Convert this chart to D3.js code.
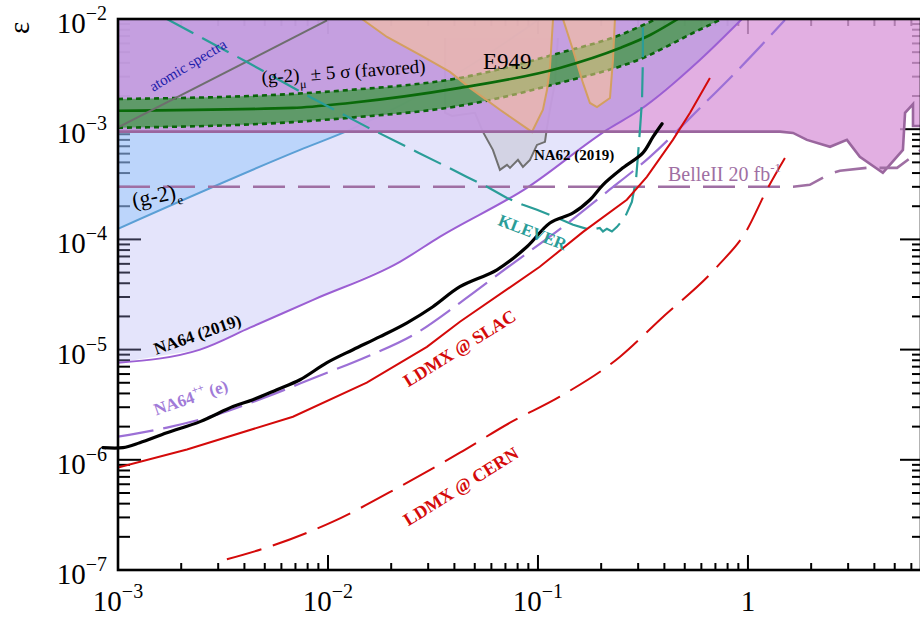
<!DOCTYPE html>
<html>
<head>
<meta charset="utf-8">
<script src="https://cdn.jsdelivr.net/npm/d3@7"></script>
<style>
  html, body { margin: 0; padding: 0; background: #fff; }
  svg { display: block; font-family: 'Liberation Serif', 'Times New Roman', serif; }
</style>
</head>
<body>
<div id="chart"></div>
<script>
// ---- data (mass in GeV, epsilon) ----
const xDomain = [1e-3, 6.67]
const yDomain = [1e-7, 1e-2]
const xMajor = [1e-3, 1e-2, 1e-1, 1]
const xMajorLabels = [['10', '−3'], ['10', '−2'], ['10', '−1'], ['1', '']]
const yMajor = [1e-7, 1e-6, 1e-5, 1e-4, 1e-3, 1e-2]
const yMajorLabels = [['10', '−7'], ['10', '−6'], ['10', '−5'], ['10', '−4'], ['10', '−3'], ['10', '−2']]

const na64_2019 = [[1.0e-3, 7.6e-6], [2.46e-3, 1.0e-5], [4.25e-3, 1.58e-5], [8.5e-3, 2.83e-5], [0.022, 6.26e-5],
  [0.0342, 1.06e-4], [0.0886, 2.94e-4], [0.213, 9.86e-4], [0.306, 1.5e-3], [0.59, 4.25e-3], [0.936, 1.0e-2]]

const g2eLine = [[1e-3, 1.25e-4], [7.36e-3, 6.49e-4], [0.0127, 9.86e-4], [0.0425, 3.31e-3], [0.102, 1.0e-2]]

const atomicSpectra = [[1e-3, 1.04e-3], [0.0099, 9.7e-3]]

const babarEdge = [[1e-3, 9.5e-4], [1.42, 9.5e-4], [1.64, 9.25e-4], [1.91, 8.0e-4], [2.46, 6.92e-4], [2.96, 8.0e-4],
  [3.41, 5.61e-4], [4.39, 4.02e-4], [5.47, 6.49e-4], [5.6, 1.41e-3], [6.11, 1.69e-3], [6.11, 1.07e-3], [6.67, 1.07e-3]]

const bandCenter = [[1e-3, 1.47e-3], [6.8e-3, 1.56e-3], [0.0127, 1.73e-3], [0.0425, 2.37e-3], [0.127, 3.6e-3],
  [0.246, 5.46e-3], [0.342, 7.16e-3], [0.464, 1.0e-2]]
const bandUpper = [[1e-3, 1.88e-3], [6.8e-3, 2.09e-3], [0.0127, 2.27e-3], [0.0425, 2.92e-3], [0.127, 4.92e-3],
  [0.246, 7.16e-3], [0.365, 1.0e-2]]
const bandLower = [[1e-3, 1.03e-3], [6.8e-3, 1.16e-3], [0.0127, 1.27e-3], [0.0425, 1.63e-3], [0.127, 2.63e-3],
  [0.316, 4.43e-3], [0.547, 7.46e-3], [0.75, 1.0e-2]]

const e949a = [[0.0145, 1e-2], [0.0191, 6.87e-3], [0.0274, 4.72e-3], [0.0381, 3.31e-3], [0.0474, 2.37e-3],
  [0.0659, 1.5e-3], [0.0936, 9.45e-4], [0.1056, 1.5e-3], [0.1104, 2.27e-3], [0.1141, 3.67e-3], [0.118, 1e-2]]
const e949b = [[0.1315, 1e-2], [0.1468, 5.23e-3], [0.1638, 2.63e-3], [0.1768, 1.73e-3], [0.191, 1.59e-3],
  [0.2203, 1.92e-3], [0.2276, 4.25e-3], [0.2326, 1e-2]]

const na62 = [[0.0361, 6.73e-3], [0.0361, 1.41e-3], [0.039, 1.32e-3], [0.0501, 1.41e-3], [0.0547, 9.45e-4],
  [0.061, 6.49e-4], [0.0659, 4.28e-4], [0.0712, 4.75e-4], [0.0736, 4.46e-4], [0.0803, 5.27e-4], [0.0848, 4.55e-4],
  [0.0916, 5.27e-4], [0.0989, 7.2e-4], [0.108, 7.67e-4], [0.110, 9.86e-4], [0.114, 1.5e-3], [0.1205, 2.63e-3],
  [0.1245, 6.73e-3]]

const klever = [[1.71e-3, 1e-2], [4.11e-3, 4.07e-3], [8.21e-3, 1.96e-3], [0.0153, 1.05e-3], [0.0265, 6.22e-4],
  [0.0369, 4.55e-4], [0.0459, 3.69e-4], [0.0572, 3.0e-4], [0.0712, 2.38e-4], [0.0848, 2.06e-4], [0.0989, 1.86e-4],
  [0.123, 1.57e-4], [0.147, 1.36e-4], [0.177, 1.22e-4], [0.197, 1.27e-4], [0.204, 1.18e-4], [0.213, 1.25e-4],
  [0.225, 1.18e-4], [0.238, 1.3e-4], [0.26, 1.6e-4], [0.28, 2.19e-4], [0.293, 3.47e-4], [0.299, 5.61e-4],
  [0.306, 9.86e-4], [0.313, 1.84e-3], [0.316, 4.25e-3], [0.316, 1e-2]]

const belle2 = [[1e-3, 3.0e-4], [1.64, 3.0e-4], [1.97, 3.13e-4], [2.46, 3.94e-4], [2.74, 4.19e-4], [3.69, 4.46e-4],
  [5.13, 4.46e-4], [6.04, 5.61e-4], [6.67, 6.49e-4]]

const na64pp = [[1e-3, 1.62e-6], [1.71e-3, 1.96e-6], [2.96e-3, 2.57e-6], [5.12e-3, 3.74e-6], [8.86e-3, 5.68e-6],
  [0.0153, 8.62e-6], [0.0265, 1.42e-5], [0.0425, 2.66e-5], [0.0712, 5.53e-5], [0.1315, 1.3e-4], [0.213, 2.7e-4],
  [0.3415, 5.61e-4], [0.591, 1.56e-3], [0.916, 3.6e-3], [1.5, 9.79e-3]]

const na64proj = [[8.48e-4, 1.29e-6], [1.056e-3, 1.29e-6], [1.27e-3, 1.43e-6], [1.71e-3, 1.76e-6], [2.46e-3, 2.22e-6],
  [3.53e-3, 3.04e-6], [4.39e-3, 3.51e-6], [5.71e-3, 4.33e-6], [7.36e-3, 5.33e-6], [9.89e-3, 7.61e-6],
  [0.01315, 9.98e-6], [0.0177, 1.31e-5], [0.0238, 1.75e-5], [0.0316, 2.45e-5], [0.0425, 3.72e-5],
  [0.0638, 5.3e-5], [0.0886, 8.57e-5], [0.114, 1.41e-4], [0.147, 1.74e-4], [0.177, 2.29e-4], [0.204, 3.13e-4],
  [0.254, 4.46e-4], [0.316, 6.1e-4], [0.353, 8.51e-4], [0.39, 1.12e-3]]

const ldmxSlac = [[1e-3, 8.5e-7], [2.13e-3, 1.24e-6], [6.81e-3, 2.46e-6], [0.0153, 5.01e-6], [0.0296, 1.06e-5],
  [0.0425, 1.79e-5], [0.102, 5.64e-5], [0.164, 1.17e-4], [0.265, 2.29e-4], [0.33, 3.69e-4], [0.439, 8.0e-4],
  [0.53, 1.41e-3], [0.659, 2.92e-3]]

const ldmxCern = [[3.3e-3, 1.25e-7], [5.12e-3, 1.6e-7], [0.01056, 2.75e-7], [0.022, 5.71e-7], [0.0425, 1.16e-6],
  [0.0736, 2.17e-6], [0.127, 3.74e-6], [0.246, 8.62e-6], [0.381, 1.87e-5], [0.712, 5.64e-5], [0.989, 1.22e-4],
  [1.23, 2.82e-4], [1.5, 5.49e-4]]

// ---- layout ----
const W = 920, H = 618
const x = d3.scaleLog().domain(xDomain).range([118, 921])
const y = d3.scaleLog().domain(yDomain).range([570, 19])
const [x0, x1] = x.range()
const [y0, y1] = y.range()

const svg = d3.select('#chart').append('svg')
  .attr('width', W).attr('height', H)

const line = d3.line().x(d => x(d[0])).y(d => y(d[1]))
const smooth = d3.line().x(d => x(d[0])).y(d => y(d[1])).curve(d3.curveMonotoneX)
const rounded = d3.line().x(d => x(d[0])).y(d => y(d[1])).curve(d3.curveCatmullRom.alpha(0.5))
const poly = pts => line(pts) + 'Z'

const defs = svg.append('defs')
defs.append('clipPath').attr('id', 'plotClip')
  .append('rect').attr('x', x0).attr('y', y1).attr('width', x1 - x0).attr('height', y0 - y1)
defs.append('clipPath').attr('id', 'na64Clip')
  .append('path').attr('d', poly([[1e-3, 1e-2], ...na64_2019]))
defs.append('clipPath').attr('id', 'belowBabar')
  .append('rect').attr('x', x0).attr('y', y(9.5e-4)).attr('width', x1 - x0).attr('height', y0 - y(9.5e-4))

// ---- ticks (drawn first, the shaded regions sit over them) ----
const tickG = svg.append('g').attr('stroke', '#000').attr('stroke-width', 2)
const isMajor = v => Math.abs(Math.log10(v) - Math.round(Math.log10(v))) < 1e-6

x.ticks().forEach(v => {
  const len = isMajor(v) ? 15 : 7
  tickG.append('line').attr('x1', x(v)).attr('x2', x(v)).attr('y1', y0).attr('y2', y0 - len)
  tickG.append('line').attr('x1', x(v)).attr('x2', x(v)).attr('y1', y1).attr('y2', y1 + len)
})
y.ticks().forEach(v => {
  const major = isMajor(v)
  tickG.append('line').attr('y1', y(v)).attr('y2', y(v)).attr('x1', x0).attr('x2', x0 + (major ? 23 : 12))
  tickG.append('line').attr('y1', y(v)).attr('y2', y(v)).attr('x1', x1).attr('x2', x1 - (major ? 21 : 9))
})

const plot = svg.append('g').attr('clip-path', 'url(#plotClip)')

// NA64 (2019) excluded region
plot.append('path').attr('d', poly([[1e-3, 1e-2], ...na64_2019]))
  .attr('fill', 'rgb(165,165,241)').attr('fill-opacity', 0.3)

// (g-2)_e region + line
plot.append('g').attr('clip-path', 'url(#belowBabar)')
  .append('path').attr('d', poly([[1e-3, 1e-2], ...g2eLine]))
  .attr('fill', 'rgb(140,195,250)').attr('fill-opacity', 0.45)
plot.append('path').attr('d', smooth(g2eLine))
  .attr('fill', 'none').attr('stroke', '#5b9fd5').attr('stroke-width', 2)

// NA62 (2019)
plot.append('path').attr('d', poly(na62))
  .attr('fill', '#a0a0a0').attr('fill-opacity', 0.25)
plot.append('path').attr('d', line(na62))
  .attr('fill', 'none').attr('stroke', '#707070').attr('stroke-width', 2)

// BaBar region (pink, purple where it overlaps NA64)
const babarPoly = poly([[1e-3, 1e-2], [xDomain[1], 1e-2], ...babarEdge.slice().reverse()])
plot.append('path').attr('d', babarPoly)
  .attr('fill', 'rgb(219,155,219)').attr('fill-opacity', 0.8)
plot.append('g').attr('clip-path', 'url(#na64Clip)')
  .append('path').attr('d', babarPoly)
  .attr('fill', 'rgb(191,156,224)').attr('fill-opacity', 0.8)

// (g-2)_mu band
plot.append('path').attr('d', smooth(bandUpper) + 'L' + smooth(bandLower.slice().reverse()).slice(1) + 'Z')
  .attr('fill', 'rgb(27,152,25)').attr('fill-opacity', 0.6)
;[bandUpper, bandLower].forEach(b => {
  plot.append('path').attr('d', smooth(b))
    .attr('fill', 'none').attr('stroke', '#0a640a').attr('stroke-width', 2.6)
    .attr('stroke-dasharray', '5,4')
})

// E949
;[e949a, e949b].forEach(r => {
  plot.append('path').attr('d', poly(r))
    .attr('fill', 'rgb(255,199,145)').attr('fill-opacity', 0.53)
    .attr('stroke', '#d49f60').attr('stroke-width', 2)
})

plot.append('path').attr('d', smooth(bandCenter))
  .attr('fill', 'none').attr('stroke', '#0a6a0a').attr('stroke-width', 2.6)

// atomic spectra
plot.append('path').attr('d', line(atomicSpectra))
  .attr('fill', 'none').attr('stroke', '#6e6e6e').attr('stroke-width', 2)

// NA64 (2019) boundary
plot.append('path').attr('d', smooth(na64_2019))
  .attr('fill', 'none').attr('stroke', '#9b5fd3').attr('stroke-width', 2)

// BaBar boundary
plot.append('path').attr('d', line(babarEdge))
  .attr('fill', 'none').attr('stroke', '#9a669e').attr('stroke-width', 2.6)

// Belle II
plot.append('path').attr('d', line(belle2))
  .attr('fill', 'none').attr('stroke', '#9f6fa3').attr('stroke-width', 2.6)
  .attr('stroke-dasharray', '32,13')

// KLEVER
plot.append('path').attr('d', line(klever))
  .attr('fill', 'none').attr('stroke', '#2a9d98').attr('stroke-width', 2.2)
  .attr('stroke-dasharray', '30,10')

// NA64++ (e)
plot.append('path').attr('d', smooth(na64pp))
  .attr('fill', 'none').attr('stroke', '#9c70d6').attr('stroke-width', 2.2)
  .attr('stroke-dasharray', '36,10')

// LDMX
plot.append('path').attr('d', line(ldmxSlac))
  .attr('fill', 'none').attr('stroke', '#d40a0a').attr('stroke-width', 2)
plot.append('path').attr('d', smooth(ldmxCern))
  .attr('fill', 'none').attr('stroke', '#d40a0a').attr('stroke-width', 2)
  .attr('stroke-dasharray', '36,12')

// NA64 projection (black, runs slightly past the left axis)
svg.append('path').attr('d', rounded(na64proj))
  .attr('fill', 'none').attr('stroke', '#000').attr('stroke-width', 3.2)
  .attr('stroke-linecap', 'round').attr('stroke-linejoin', 'round')

// ---- labels ----
function label(m, e, angle, txt, opts = {}) {
  const t = svg.append('text')
    .attr('transform', `translate(${x(m)},${y(e)}) rotate(${angle})`)
    .attr('font-size', opts.size || 16)
    .attr('font-weight', opts.bold ? 'bold' : 'normal')
    .attr('fill', opts.color || '#000')
  txt.forEach(p => {
    const ts = t.append('tspan').text(p.t)
    if (p.size) ts.attr('font-size', p.size)
    if (p.dy) ts.attr('dy', p.dy)
  })
  return t
}

label(1.47e-3, 2.18e-3, -31, [{ t: 'atomic spectra' }], { size: 15, color: '#1c1caa' })
label(4.85e-3, 2.58e-3, -4, [{ t: '(g-2)' }, { t: 'μ', size: 12, dy: 7 }, { t: '  ± 5 σ (favored)', dy: -7 }], { size: 19 })
label(0.0547, 3.52e-3, 0, [{ t: 'E949' }], { size: 23 })
label(0.0957, 5.27e-4, 0, [{ t: 'NA62 (2019)' }], { size: 15, bold: true })
label(0.416, 3.4e-4, 0, [{ t: 'BelleII 20 fb' }, { t: '-1', size: 13, dy: -9 }], { size: 20, color: '#9f6fa3' })
label(1.19e-3, 1.93e-4, -12, [{ t: '(g-2)' }, { t: 'e', size: 13, dy: 6 }], { size: 22 })
label(0.0638, 1.36e-4, 21, [{ t: 'KLEVER' }], { size: 17, bold: true, color: '#2a9d98' })
label(1.52e-3, 9.0e-6, -19, [{ t: 'NA64 (2019)' }], { size: 17, bold: true })
label(1.52e-3, 2.52e-6, -19, [{ t: 'NA64' }, { t: '++', size: 11, dy: -8 }, { t: '  (e)', dy: 8 }], { size: 17, bold: true, color: '#a17bd8' })
label(0.0241, 4.52e-6, -32, [{ t: 'LDMX @ SLAC' }], { size: 18, bold: true, color: '#d40a0a' })
label(0.0241, 2.48e-7, -32, [{ t: 'LDMX @ CERN' }], { size: 18, bold: true, color: '#d40a0a' })

// ---- frame and tick labels ----
svg.append('rect').attr('x', x0).attr('y', y1).attr('width', x1 - x0).attr('height', y0 - y1)
  .attr('fill', 'none').attr('stroke', '#000').attr('stroke-width', 2.6)

yMajor.forEach((v, i) => {
  const t = svg.append('text').attr('x', 107).attr('y', y(v) + 14)
    .attr('text-anchor', 'end').attr('font-size', 29)
  t.append('tspan').text(yMajorLabels[i][0])
  t.append('tspan').text(yMajorLabels[i][1]).attr('font-size', 20).attr('dy', -13)
})
xMajor.forEach((v, i) => {
  const t = svg.append('text').attr('x', x(v)).attr('y', 611)
    .attr('text-anchor', 'middle').attr('font-size', 29)
  t.append('tspan').text(xMajorLabels[i][0])
  if (xMajorLabels[i][1]) t.append('tspan').text(xMajorLabels[i][1]).attr('font-size', 20).attr('dy', -13)
})

svg.append('text').attr('transform', 'translate(29,28) rotate(-90)')
  .attr('text-anchor', 'middle').attr('font-size', 29).text('ε')
</script>
</body>
</html>
